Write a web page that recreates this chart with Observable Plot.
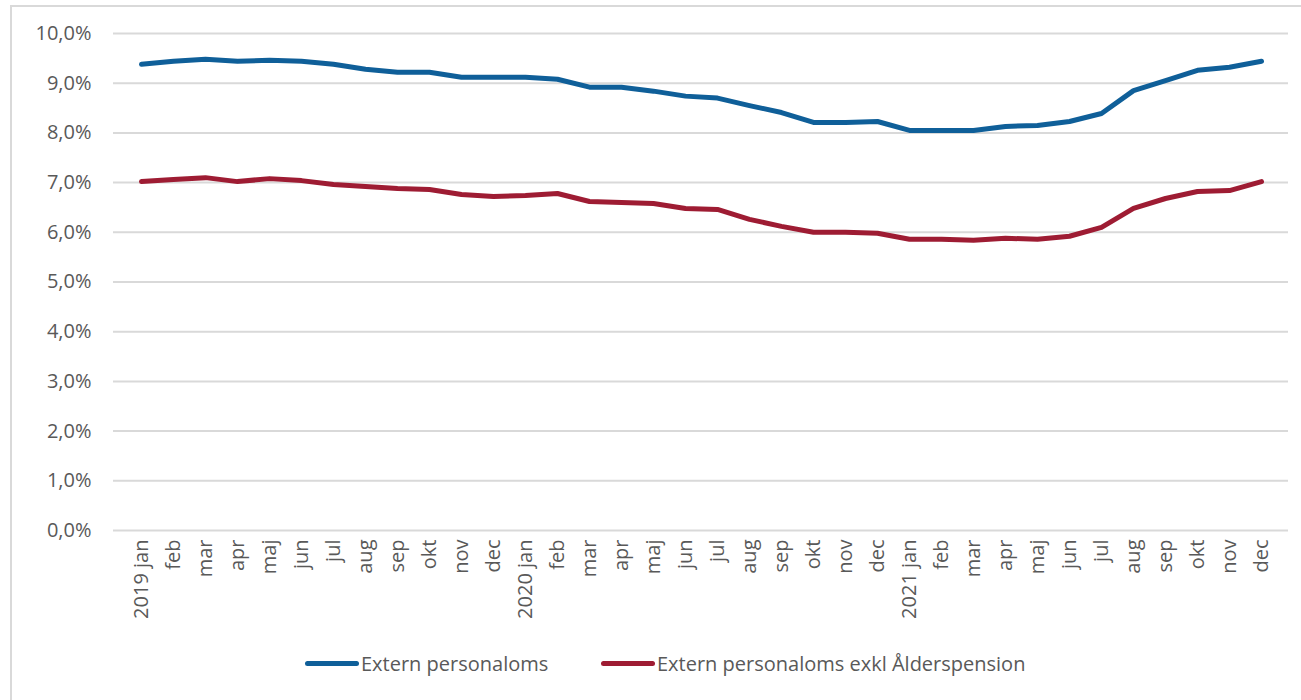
<!DOCTYPE html>
<html>
<head>
<meta charset="utf-8">
<script src="https://cdn.jsdelivr.net/npm/d3@7"></script>
<script src="https://cdn.jsdelivr.net/npm/@observablehq/plot@0.6"></script>
<style>
  html, body { margin: 0; padding: 0; background: #fff; }
  body { width: 1301px; height: 700px; position: relative; overflow: hidden; font-family: "Open Sans", sans-serif; }
  #frame { position: absolute; left: 10px; top: 5px; width: 1300px; height: 700px; border: 2px solid #d9d9d9; box-sizing: border-box; }
  #chart { position: absolute; left: 0; top: 0; }
  #legend { position: absolute; top: 650px; left: 0; width: 1301px; font-size: 20px; color: #595959; }
  .item { position: absolute; display: flex; align-items: center; white-space: nowrap; }
  .sw { width: 54px; height: 5px; border-radius: 3px; margin-right: 2px; }
</style>
</head>
<body>
<div id="frame"></div>
<div id="chart"></div>
<div id="legend"></div>
<script>
const months = ["2019 jan","feb","mar","apr","maj","jun","jul","aug","sep","okt","nov","dec",
  "2020 jan","feb","mar","apr","maj","jun","jul","aug","sep","okt","nov","dec",
  "2021 jan","feb","mar","apr","maj","jun","jul","aug","sep","okt","nov","dec"];
const seriesNames = ["Extern personaloms", "Extern personaloms exkl Ålderspension"];
const seriesColors = ["#0f5f99", "#9e1c33"];
const extern = [9.38,9.44,9.48,9.44,9.46,9.44,9.38,9.28,9.22,9.22,9.12,9.12,
  9.12,9.08,8.92,8.92,8.84,8.74,8.70,8.55,8.41,8.21,8.21,8.23,
  8.05,8.05,8.05,8.13,8.15,8.23,8.39,8.85,9.05,9.26,9.32,9.44];
const exklAlder = [7.02,7.06,7.10,7.02,7.08,7.04,6.96,6.92,6.88,6.86,6.76,6.72,
  6.74,6.78,6.62,6.60,6.58,6.48,6.46,6.26,6.12,6.00,6.00,5.98,
  5.86,5.86,5.84,5.88,5.86,5.92,6.10,6.48,6.68,6.82,6.84,7.02];
const yTicks = [0,1,2,3,4,5,6,7,8,9,10];

const data = [];
[extern, exklAlder].forEach((arr, s) => arr.forEach((v, i) => data.push({i, v, s: seriesNames[s]})));

const chart = Plot.plot({
  width: 1301,
  height: 645,
  marginLeft: 113,
  marginRight: 13,
  marginTop: 33,
  marginBottom: 115,
  style: { fontFamily: "Open Sans, sans-serif", fontSize: "20px", color: "#595959", background: "transparent", overflow: "visible" },
  x: { type: "point", domain: d3.range(months.length), padding: 0.5, label: null },
  y: { domain: [0, 10], label: null },
  color: { domain: seriesNames, range: seriesColors },
  marks: [
    Plot.gridY(yTicks, { stroke: "#d9d9d9", strokeOpacity: 1, strokeWidth: 2 }),
    Plot.axisY(yTicks, { tickSize: 0, tickPadding: 22, tickFormat: d => d.toFixed(1).replace(".", ",") + "%", fontSize: 20 }),
    Plot.axisX({ tickSize: 0, tickPadding: 9, tickRotate: -90, tickFormat: i => months[i], fontSize: 20 }),
    Plot.line(data, { x: "i", y: "v", z: "s", stroke: "s", strokeWidth: 5, strokeLinejoin: "round", strokeLinecap: "round" })
  ]
});
document.getElementById("chart").appendChild(chart);

const legend = document.getElementById("legend");
const lefts = [305, 601];
seriesNames.forEach((n, k) => {
  const it = document.createElement("div");
  it.className = "item";
  it.style.left = lefts[k] + "px";
  const sw = document.createElement("div");
  sw.className = "sw";
  sw.style.background = seriesColors[k];
  const t = document.createElement("span");
  t.textContent = n;
  it.appendChild(sw); it.appendChild(t);
  legend.appendChild(it);
});
</script>
</body>
</html>
